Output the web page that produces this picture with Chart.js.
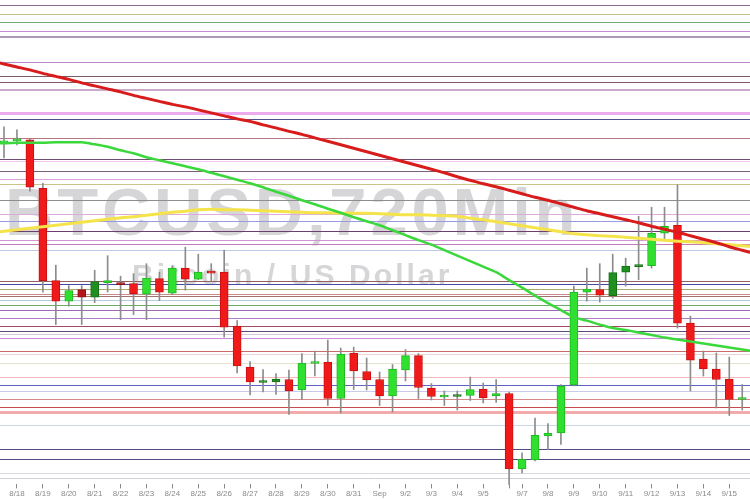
<!DOCTYPE html>
<html>
<head>
<meta charset="utf-8">
<title>BTCUSD,720Min</title>
<script src="https://cdn.jsdelivr.net/npm/chart.js@4.4.1/dist/chart.umd.min.js"></script>
<style>
  html, body { margin: 0; padding: 0; background: #fff; }
  canvas { display: block; }
</style>
</head>
<body>
<canvas id="chart" width="750" height="500"></canvas>
<script>
// 12h candles, from 8/17 12:00 to 9/15 12:00
const opens  = [4314,4318,4320,4223,4038,3997,4020,4005,4034,4034,
                4032,4011,4042,4013,4063,4041,4056,4055,3947,3865,
                3834,3835,3840,3819,3872,3875,3802,3893,3856,3840,
                3807,3859,3888,3823,3805,3806,3808,3821,3807,3812,
                3661,3679,3727,3733,3829,4015,4020,4008,4055,4066,
                4068,4133,4149,3953,3881,3861,3841,3800];
const highs  = [4346,4340,4322,4233,4069,4028,4028,4059,4088,4047,
                4052,4072,4055,4068,4105,4091,4072,4099,3958,3876,
                3860,3852,3859,3892,3897,3919,3903,3905,3883,3855,
                3870,3900,3892,3832,3817,3817,3845,3833,3840,3815,
                3693,3763,3752,3830,4027,4063,4072,4091,4083,4167,
                4185,4185,4230,3967,3897,3893,3885,3830];
const lows   = [4284,4310,4217,4015,3950,3987,3950,3994,4015,3960,
                3970,3960,3998,4010,4019,4040,4037,3925,3853,3809,
                3815,3810,3770,3800,3847,3788,3773,3820,3819,3788,
                3775,3837,3802,3799,3788,3779,3798,3793,3794,3630,
                3653,3677,3700,3710,3827,3997,3995,4003,4027,4040,
                4063,4120,3943,3817,3847,3783,3768,3779];
const closes = [4316,4320,4225,4038,3997,4018,4005,4036,4036,4030,
                4012,4043,4015,4063,4041,4055,4053,3945,3867,3835,
                3837,3841,3817,3873,3874,3802,3891,3857,3839,3807,
                3861,3888,3824,3806,3807,3808,3820,3803,3812,3661,
                3680,3728,3733,3827,4015,4021,4009,4054,4067,4068,
                4133,4147,3953,3879,3861,3840,3800,3802];
const darkCandles = [6, 7, 9, 20, 21, 35, 47, 48, 49];

// moving averages, first value sits one candle before the first candle
const maStart = -1;
const maRed = [4478,4472,4466,4460,4453,4447,4441,4434,4428,4422,4416,4409,4403,4397,4391,
               4386,4380,4374,4368,4362,4357,4350,4344,4337,4331,4324,4317,4310,4303,4296,
               4289,4282,4275,4268,4261,4254,4246,4239,4232,4226,4219,4212,4205,4199,4192,
               4185,4178,4172,4166,4160,4154,4147,4141,4135,4128,4121,4114,4106,4099,4092];
const maGreen = [4313,4313,4314,4314,4314,4315,4315,4315,4311,4306,4299,4293,4285,4279,4273,
                 4267,4261,4254,4247,4240,4233,4225,4216,4208,4199,4191,4182,4174,4165,4157,
                 4149,4139,4129,4119,4110,4099,4088,4077,4066,4055,4039,4024,4008,3993,3979,
                 3965,3958,3950,3943,3939,3934,3929,3924,3920,3916,3912,3908,3904,3900,3896];
const maYellow = [4134,4137,4140,4143,4146,4149,4152,4155,4158,4161,4164,4166,4169,4172,4175,
                  4177,4180,4181,4180,4180,4179,4178,4177,4176,4175,4174,4174,4173,4173,4173,
                  4172,4171,4170,4170,4169,4168,4167,4163,4160,4156,4152,4148,4144,4140,4136,
                  4132,4130,4128,4127,4125,4123,4121,4119,4117,4116,4114,4112,4110,4108,4106];

// x axis labels (candle index of each tick)
const tickIdx  = [1,3,5,7,9,11,13,15,17,19,21,23,25,27,29,31,33,35,37,39,40,42,44,46,48,50,52,54,56];
const tickText = ['8/18','8/19','8/20','8/21','8/22','8/23','8/24','8/25','8/26','8/27','8/28','8/29','8/30','8/31',
                  'Sep','9/2','9/3','9/4','9/5','','9/7','9/8','9/9','9/10','9/11','9/12','9/13','9/14','9/15'];

// horizontal price levels
const levels = [4590.6,4571.4,4555.4,4538,4525.4,4476,4447.4,4436,4419.4,4374.6,
                4362,4324,4280.6,4277.4,4256.6,4242,4232,4198.6,4172,4158,
                4137,4120,4112,4099,4037.4,4032,4021.4,4011.4,4006.6,3999,
                3988.4,3978.6,3963,3948,3937.4,3930.4,3922.6,3898,3892,3873.4,
                3846,3829,3816.6,3801,3784.4,3774.6,3749.4,3701.4,3681.4,3653.4];
const levelColors = ['#8a6a8c','#c4bc8c','#74a874','#c48ad4','#aa9aba','#b688c8','#7e5c64','#845a6c','#ccaacc','#eeaaee',
                     '#52508e','#b47882','#6e4e72','#f4c4f4','#7e5e80','#dca4dc','#c8c48a','#8e8e8e','#dcaadc','#9a9ae2',
                     '#6e3e70','#d294d2','#c47ab6','#bccce8','#926262','#4848a6','#aaaa6c','#cc8a8a','#a27272','#b4cce2',
                     '#6aaa6a','#9a6aba','#ac7cc4','#a44a62','#62487e','#d8c8dc','#ca8ada','#ca6a6a','#ead4d4','#e4e4cc',
                     '#f2baba','#6262c2','#cacaea','#d88888','#c84a4a','#f2aaaa','#cad8e8','#524a82','#524a82','#dadae2'];
const thickLevels = { 4: 2, 8: 2, 9: 3, 45: 3 };

// watermark + levels, drawn under the candles
const backdrop = {
  id: 'backdrop',
  beforeDatasetsDraw(chart) {
    const { ctx, chartArea: a, scales: { y } } = chart;
    ctx.save();
    ctx.fillStyle = '#d6d6d8';
    ctx.textBaseline = 'alphabetic';
    ctx.font = 'bold 67px "Liberation Sans", Arial, sans-serif';
    ctx.letterSpacing = '3.8px';
    ctx.fillText('BTCUSD,720Min', 5, 235);
    ctx.font = 'bold 30px "Liberation Sans", Arial, sans-serif';
    ctx.letterSpacing = '3.1px';
    ctx.fillText('Bitcoin / US Dollar', 132, 285);
    ctx.letterSpacing = '0px';

    levels.forEach((v, i) => {
      const w = thickLevels[i] || 1;
      let py = Math.round(y.getPixelForValue(v));
      if (w % 2) py += 0.5;
      ctx.strokeStyle = levelColors[i];
      ctx.lineWidth = w;
      ctx.beginPath();
      ctx.moveTo(a.left, py);
      ctx.lineTo(a.right, py);
      ctx.stroke();
    });
    ctx.restore();
  }
};

const isUp = i => closes[i] >= opens[i];
const isDark = i => darkCandles.includes(i);
const bodyFill = opens.map((o, i) => isUp(i) ? (isDark(i) ? '#1f8f1f' : '#2fe02f') : (isDark(i) ? '#b3161e' : '#f01a1a'));
const bodyLine = opens.map((o, i) => isUp(i) ? (isDark(i) ? '#167016' : '#1fb81f') : (isDark(i) ? '#8e1016' : '#c81010'));

const maData = arr => arr.map((v, i) => ({ x: i + maStart, y: v }));

new Chart(document.getElementById('chart'), {
  type: 'bar',
  data: {
    datasets: [
      { type: 'line', data: maData(maRed), borderColor: '#d81c1c', borderWidth: 3, pointRadius: 0, tension: 0.3 },
      { type: 'line', data: maData(maGreen), borderColor: '#3ad83a', borderWidth: 2.5, pointRadius: 0, tension: 0.3 },
      { type: 'line', data: maData(maYellow), borderColor: '#f5e34a', borderWidth: 3, pointRadius: 0, tension: 0.3 },
      {
        data: opens.map((o, i) => ({ x: i, y: [o, closes[i]] })),
        backgroundColor: bodyFill, borderColor: bodyLine, borderWidth: 1, borderSkipped: false,
        barThickness: 8, minBarLength: 2, grouped: false
      },
      {
        data: opens.map((o, i) => ({ x: i, y: [lows[i], highs[i]] })),
        backgroundColor: '#8c8c8c', barThickness: 1, grouped: false, clip: false
      }
    ]
  },
  options: {
    responsive: false,
    animation: false,
    layout: { padding: 0 },
    plugins: { legend: { display: false }, tooltip: { enabled: false } },
    scales: {
      x: {
        type: 'linear',
        offset: false,
        min: -0.31,
        max: 57.6,
        afterBuildTicks: s => { s.ticks = tickIdx.map(v => ({ value: v })); },
        ticks: {
          autoSkip: false,
          maxRotation: 0,
          padding: 1,
          color: '#8a8a8a',
          font: { family: '"Liberation Sans", Arial, sans-serif', size: 8 },
          callback: (v, i) => tickText[i]
        },
        grid: {
          drawOnChartArea: false,
          offset: false,
          tickLength: 10,
          tickColor: '#8a8a8a',
          tickBorderDash: [0, 5, 5, 0]
        },
        border: { color: '#cfd0d8' }
      },
      y: { display: false, min: 3642, max: 4600 }
    }
  },
  plugins: [backdrop]
});
</script>
</body>
</html>
